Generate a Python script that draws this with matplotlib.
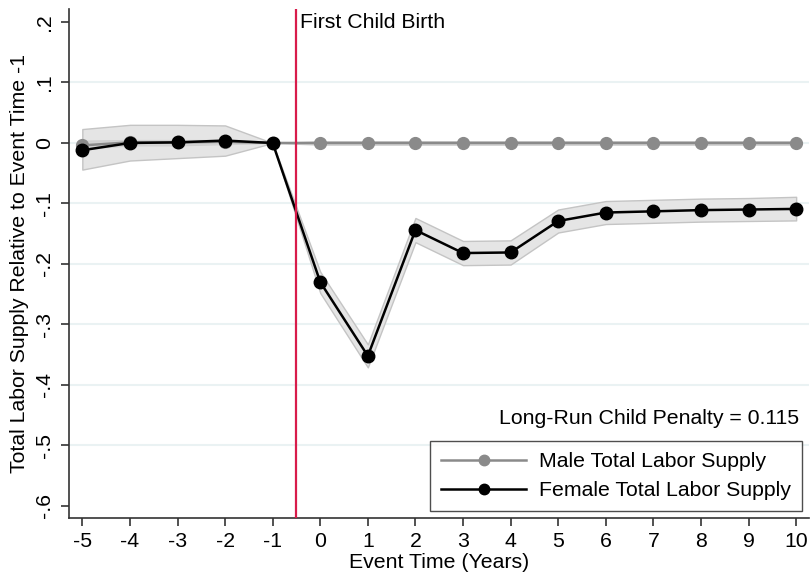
import matplotlib
matplotlib.use("Agg")
import matplotlib.pyplot as plt
from matplotlib.lines import Line2D

FS = 15.3
plt.rcParams['font.family'] = ['Liberation Sans', 'DejaVu Sans']
plt.rcParams['font.size'] = FS

event_time = [-5, -4, -3, -2, -1, 0, 1, 2, 3, 4, 5, 6, 7, 8, 9, 10]
female = [-0.012, 0.000, 0.001, 0.004, 0.0, -0.230, -0.352, -0.144, -0.182, -0.181,
          -0.129, -0.115, -0.113, -0.111, -0.110, -0.109]
female_lo = [-0.044, -0.029, -0.025, -0.021, 0.0, -0.248, -0.371, -0.164, -0.202, -0.201,
             -0.148, -0.134, -0.132, -0.130, -0.129, -0.128]
female_hi = [0.023, 0.030, 0.030, 0.029, 0.0, -0.213, -0.333, -0.124, -0.162, -0.161,
             -0.110, -0.096, -0.094, -0.092, -0.091, -0.089]
male = [-0.004, 0.001, 0.001, 0.002, 0.0, 0.0, 0.0, 0.0, 0.0, 0.0, 0.0, 0.0, 0.0, 0.0, 0.0, 0.0]
male_lo = [-0.010, -0.004, -0.004, -0.002, 0.0, -0.003, -0.003, -0.003, -0.003, -0.003,
           -0.003, -0.003, -0.003, -0.003, -0.003, -0.003]
male_hi = [0.004, 0.005, 0.005, 0.005, 0.0, 0.003, 0.003, 0.003, 0.003, 0.003,
           0.003, 0.003, 0.003, 0.003, 0.003, 0.003]
y_ticks = [0.2, 0.1, 0.0, -0.1, -0.2, -0.3, -0.4, -0.5, -0.6]
y_ticklabels = ['.2', '.1', '0', '-.1', '-.2', '-.3', '-.4', '-.5', '-.6']
grid_vals = [0.1, 0.0, -0.1, -0.2, -0.3, -0.4, -0.5]
long_run_penalty = 0.115

W, H = 811, 577
fig = plt.figure(figsize=(W / 100, H / 100), dpi=100)
left, right, top, bottom = 69, 809, 9.3, 518
ax = fig.add_axes([left / W, 1 - bottom / H, (right - left) / W, (bottom - top) / H])

ax.set_xlim(-5.28, 10.27)
ax.set_ylim(-0.62, 0.221)

for g in grid_vals:
    ax.axhline(g, color='#eaf2f3', lw=1.5, zorder=0)

ax.fill_between(event_time, female_lo, female_hi, facecolor='#e5e5e5',
                edgecolor='#c4c4c4', lw=1.0, zorder=1)
ax.fill_between(event_time, male_lo, male_hi, facecolor='#d4d4d4',
                edgecolor='#d0d0d0', lw=0.8, zorder=2)
ax.plot(event_time, male, color='#8a8a8a', lw=1.8, marker='o', ms=8.5,
        markerfacecolor='#8a8a8a', markeredgecolor='#8a8a8a', zorder=3)
ax.plot(event_time, female, color='black', lw=1.8, marker='o', ms=9,
        markerfacecolor='black', markeredgecolor='black', zorder=4)

ax.axvline(-0.5, color='#d81b4a', lw=1.6, zorder=5)
ax.text(-0.43, 0.2, 'First Child Birth', ha='left', va='center', fontsize=FS)

ax.text(10.07, -0.4555, f'Long-Run Child Penalty = {long_run_penalty:.3f}',
        ha='right', va='center', fontsize=FS)

ax.set_xticks(event_time)
ax.set_xticklabels([str(v) for v in event_time])
ax.set_yticks(y_ticks)
ax.set_yticklabels(y_ticklabels, rotation=90, va='center')
ax.tick_params(axis='both', direction='out', length=6, width=1.2, color='#333333',
               labelsize=FS, pad=4)
ax.tick_params(axis='y', pad=5)

for s in ['top', 'right']:
    ax.spines[s].set_visible(False)
for s in ['left', 'bottom']:
    ax.spines[s].set_color('#333333')
    ax.spines[s].set_linewidth(1.2)

ax.set_xlabel('Event Time (Years)', fontsize=FS, labelpad=1.5)
ax.set_ylabel('Total Labor Supply Relative to Event Time -1', fontsize=FS, labelpad=4)

handles = [
    Line2D([0], [0], color='#8a8a8a', lw=1.8, marker='o', ms=7.5,
           markerfacecolor='#8a8a8a', markeredgecolor='#8a8a8a'),
    Line2D([0], [0], color='black', lw=1.8, marker='o', ms=7.5,
           markerfacecolor='black', markeredgecolor='black'),
]
leg = ax.legend(handles, ['Male Total Labor Supply', 'Female Total Labor Supply'],
                loc='lower right',
                bbox_to_anchor=((801.7 - left) / (right - left), (bottom - 510.7) / (bottom - top)),
                frameon=True, fancybox=False, edgecolor='#222222', fontsize=FS,
                handlelength=4.0, handletextpad=0.62, labelspacing=0.47,
                borderpad=0.5, borderaxespad=0)
leg.get_frame().set_linewidth(1.0)

fig.savefig('out.png', dpi=100)
